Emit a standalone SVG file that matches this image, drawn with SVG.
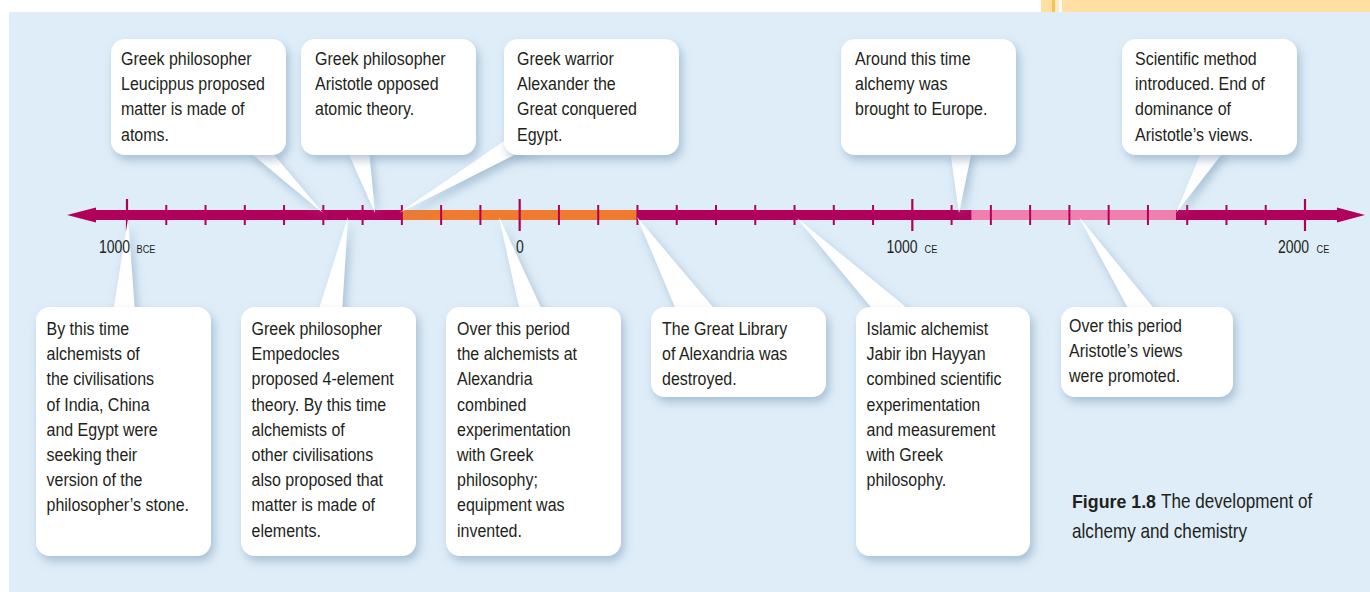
<svg xmlns="http://www.w3.org/2000/svg" width="1370" height="592" viewBox="0 0 1370 592">
<defs>
<style>
.t{font-family:"Liberation Sans",Arial,sans-serif;font-size:18.5px;fill:#231F20;}
.lbl{font-family:"Liberation Sans",Arial,sans-serif;font-size:17.5px;fill:#231F20;}
.sc{font-family:"Liberation Sans",Arial,sans-serif;font-size:11.5px;fill:#231F20;}
.cap{font-family:"Liberation Sans",Arial,sans-serif;font-size:19.8px;fill:#231F20;}
.capb{font-family:"Liberation Sans",Arial,sans-serif;font-size:17.8px;font-weight:bold;fill:#231F20;}
.box{fill:#FFFFFF;}
.ptr{fill:#FFFFFF;}
.mag{fill:#B1005A;}
</style>
<filter id="sh" x="-20%" y="-20%" width="140%" height="140%">
<feDropShadow dx="3" dy="5" stdDeviation="5" flood-color="#7A98B6" flood-opacity="0.55"/>
</filter>
</defs>

<!-- background -->
<rect x="0" y="0" width="1370" height="592" fill="#FFFFFF"/>
<rect x="1041" y="0" width="329" height="12" fill="#FFE0A2"/>
<rect x="1052" y="0" width="3" height="12" fill="#F9C24E"/>
<rect x="1055" y="0" width="4" height="12" fill="#FFEBC0"/>
<rect x="1059" y="0" width="3" height="12" fill="#FFFFFF"/>
<rect x="9" y="12" width="1361" height="580" fill="#DEEDF8"/>

<!-- timeline -->
<g id="timeline">
<polygon class="mag" points="67,215 96,207.5 96,222.5"/>
<rect class="mag" x="95" y="210" width="307" height="10"/>
<rect x="401.7" y="210" width="236" height="10" fill="#F07A2E"/>
<rect class="mag" x="637.7" y="210" width="334" height="10"/>
<rect x="971.7" y="210" width="204.3" height="10" fill="#F07EAE"/>
<rect class="mag" x="1176" y="210" width="162" height="10"/>
<polygon class="mag" points="1365,215 1337,207.5 1337,222.5"/>
<path stroke="#B1005A" stroke-width="2" fill="none" d="M166.27 205V225M205.53 205V225M244.8 205V225M284.07 205V225M323.33 205V225M362.6 205V225M401.87 205V225M441.13 205V225M480.4 205V225M558.93 205V225M598.2 205V225M637.47 205V225M676.73 205V225M716 205V225M755.27 205V225M794.53 205V225M833.8 205V225M873.07 205V225M951.6 205V225M990.87 205V225M1030.13 205V225M1069.4 205V225M1108.67 205V225M1147.93 205V225M1187.2 205V225M1226.47 205V225M1265.73 205V225"/>
<path stroke="#B1005A" stroke-width="2.2" fill="none" d="M127 199V231M519.67 199V231M912.33 199V231M1305 199V231"/>
</g>

<!-- connectors: callout pointers -->
<g id="connectors" filter="url(#sh)">
<polygon class="ptr" points="247,150 270,150 323,213"/>
<polygon class="ptr" points="347,150 369,150 375,213"/>
<polygon class="ptr" points="399,213 504,141 541,155 520,152"/>
<polygon class="ptr" points="950,150 972,150 959,213"/>
<polygon class="ptr" points="1202,150 1225,150 1176,213"/>
<polygon class="ptr" points="113,312 135,312 128,219"/>
<polygon class="ptr" points="318,312 342,312 348,217"/>
<polygon class="ptr" points="520,312 543,312 499,217"/>
<polygon class="ptr" points="677,312 717,312 637,217"/>
<polygon class="ptr" points="875,312 912,312 797,218"/>
<polygon class="ptr" points="1130,312 1157,312 1079,217"/>
</g>

<!-- axis labels -->
<g id="axis-labels">
<g transform="translate(99,253) scale(0.8,1)"><text class="lbl" x="0" y="0">1000</text></g>
<g transform="translate(136.5,253) scale(0.8,1)"><text class="sc" x="0" y="0">BCE</text></g>
<g transform="translate(520,253) scale(0.8,1)"><text class="lbl" x="0" y="0" text-anchor="middle">0</text></g>
<g transform="translate(886.5,253) scale(0.8,1)"><text class="lbl" x="0" y="0">1000</text></g>
<g transform="translate(924.5,253) scale(0.8,1)"><text class="sc" x="0" y="0">CE</text></g>
<g transform="translate(1278,253) scale(0.8,1)"><text class="lbl" x="0" y="0">2000</text></g>
<g transform="translate(1316.5,253) scale(0.8,1)"><text class="sc" x="0" y="0">CE</text></g>
</g>

<!-- nodes -->
<g id="n-leucippus">
<rect class="box" x="111" y="39" width="175" height="116" rx="14" filter="url(#sh)"/>
<g transform="translate(121,0) scale(0.865,1)"><text class="t"><tspan x="0" y="65">Greek philosopher</tspan><tspan x="0" y="90.2">Leucippus proposed</tspan><tspan x="0" y="115.4">matter is made of</tspan><tspan x="0" y="140.6">atoms.</tspan></text></g>
</g>
<g id="n-aristotle">
<rect class="box" x="301" y="39" width="175" height="116" rx="14" filter="url(#sh)"/>
<g transform="translate(315,0) scale(0.865,1)"><text class="t"><tspan x="0" y="65">Greek philosopher</tspan><tspan x="0" y="90.2">Aristotle opposed</tspan><tspan x="0" y="115.4">atomic theory.</tspan></text></g>
</g>
<g id="n-alexander">
<rect class="box" x="504" y="39" width="175" height="116" rx="14" filter="url(#sh)"/>
<g transform="translate(517,0) scale(0.865,1)"><text class="t"><tspan x="0" y="65">Greek warrior</tspan><tspan x="0" y="90.2">Alexander the</tspan><tspan x="0" y="115.4">Great conquered</tspan><tspan x="0" y="140.6">Egypt.</tspan></text></g>
</g>
<g id="n-europe">
<rect class="box" x="841" y="39" width="175" height="116" rx="14" filter="url(#sh)"/>
<g transform="translate(855,0) scale(0.865,1)"><text class="t"><tspan x="0" y="65">Around this time</tspan><tspan x="0" y="90.2">alchemy was</tspan><tspan x="0" y="115.4">brought to Europe.</tspan></text></g>
</g>
<g id="n-scientific">
<rect class="box" x="1122" y="39" width="175" height="116" rx="14" filter="url(#sh)"/>
<g transform="translate(1135,0) scale(0.865,1)"><text class="t"><tspan x="0" y="65">Scientific method</tspan><tspan x="0" y="90.2">introduced. End of</tspan><tspan x="0" y="115.4">dominance of</tspan><tspan x="0" y="140.6">Aristotle’s views.</tspan></text></g>
</g>

<g id="n-civilisations">
<rect class="box" x="36" y="307" width="175" height="249" rx="14" filter="url(#sh)"/>
<g transform="translate(46.5,0) scale(0.865,1)"><text class="t"><tspan x="0" y="335">By this time</tspan><tspan x="0" y="360.2">alchemists of</tspan><tspan x="0" y="385.4">the civilisations</tspan><tspan x="0" y="410.6">of India, China</tspan><tspan x="0" y="435.8">and Egypt were</tspan><tspan x="0" y="461">seeking their</tspan><tspan x="0" y="486.2">version of the</tspan><tspan x="0" y="511.4">philosopher’s stone.</tspan></text></g>
</g>
<g id="n-empedocles">
<rect class="box" x="241" y="307" width="175" height="249" rx="14" filter="url(#sh)"/>
<g transform="translate(251.5,0) scale(0.865,1)"><text class="t"><tspan x="0" y="335">Greek philosopher</tspan><tspan x="0" y="360.2">Empedocles</tspan><tspan x="0" y="385.4">proposed 4-element</tspan><tspan x="0" y="410.6">theory. By this time</tspan><tspan x="0" y="435.8">alchemists of</tspan><tspan x="0" y="461">other civilisations</tspan><tspan x="0" y="486.2">also proposed that</tspan><tspan x="0" y="511.4">matter is made of</tspan><tspan x="0" y="536.6">elements.</tspan></text></g>
</g>
<g id="n-alexandria">
<rect class="box" x="446" y="307" width="175" height="249" rx="14" filter="url(#sh)"/>
<g transform="translate(457,0) scale(0.865,1)"><text class="t"><tspan x="0" y="335">Over this period</tspan><tspan x="0" y="360.2">the alchemists at</tspan><tspan x="0" y="385.4">Alexandria</tspan><tspan x="0" y="410.6">combined</tspan><tspan x="0" y="435.8">experimentation</tspan><tspan x="0" y="461">with Greek</tspan><tspan x="0" y="486.2">philosophy;</tspan><tspan x="0" y="511.4">equipment was</tspan><tspan x="0" y="536.6">invented.</tspan></text></g>
</g>
<g id="n-library">
<rect class="box" x="651" y="307" width="175" height="90" rx="14" filter="url(#sh)"/>
<g transform="translate(662,0) scale(0.865,1)"><text class="t"><tspan x="0" y="335">The Great Library</tspan><tspan x="0" y="360.2">of Alexandria was</tspan><tspan x="0" y="385.4">destroyed.</tspan></text></g>
</g>
<g id="n-jabir">
<rect class="box" x="856" y="307" width="174" height="249" rx="14" filter="url(#sh)"/>
<g transform="translate(866.5,0) scale(0.865,1)"><text class="t"><tspan x="0" y="335">Islamic alchemist</tspan><tspan x="0" y="360.2">Jabir ibn Hayyan</tspan><tspan x="0" y="385.4">combined scientific</tspan><tspan x="0" y="410.6">experimentation</tspan><tspan x="0" y="435.8">and measurement</tspan><tspan x="0" y="461">with Greek</tspan><tspan x="0" y="486.2">philosophy.</tspan></text></g>
</g>
<g id="n-promoted">
<rect class="box" x="1061" y="307" width="172" height="90" rx="14" filter="url(#sh)"/>
<g transform="translate(1069,0) scale(0.865,1)"><text class="t"><tspan x="0" y="332">Over this period</tspan><tspan x="0" y="357.2">Aristotle’s views</tspan><tspan x="0" y="382.4">were promoted.</tspan></text></g>
</g>

<!-- caption -->
<g id="caption">
<text class="capb" x="1072" y="508">Figure 1.8</text>
<g transform="translate(1161,508) scale(0.865,1)"><text class="cap" x="0" y="0">The development of</text></g>
<g transform="translate(1072,538) scale(0.865,1)"><text class="cap" x="0" y="0">alchemy and chemistry</text></g>
</g>
</svg>
